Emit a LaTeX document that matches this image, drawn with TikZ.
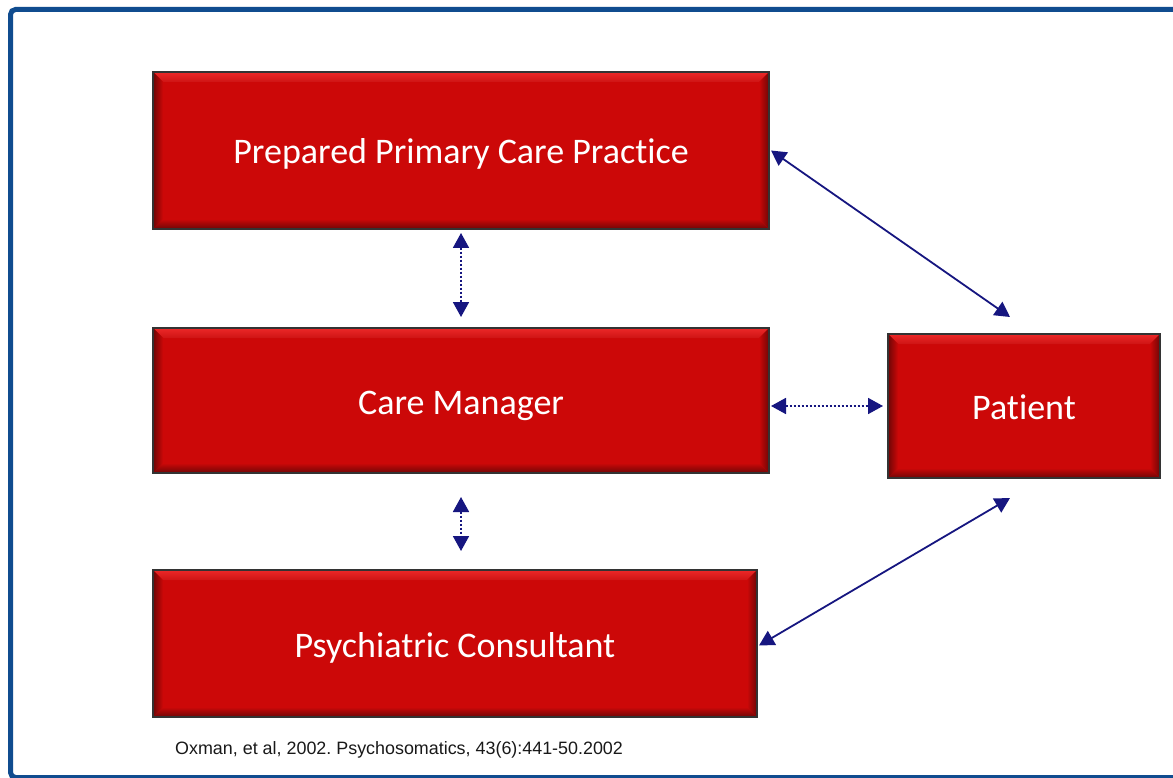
\documentclass[tikz,border=0pt]{standalone}
\usepackage{fontspec}
\setmainfont{Carlito}[Ligatures={NoCommon}]
\newfontfamily\citefont{Liberation Sans}
\usetikzlibrary{arrows.meta}
\frenchspacing

\definecolor{boxred}{RGB}{204,8,8}
\definecolor{bevlight}{RGB}{236,40,40}
\definecolor{bevdark}{RGB}{110,6,6}
\definecolor{navy}{RGB}{22,22,128}
\definecolor{framblue}{RGB}{16,76,143}

\tikzset{
  redbox/.style={
    draw=black!80, line width=2pt, fill=boxred, text=white,
    font=\fontsize{36}{42}\selectfont, inner sep=0pt,
    text height=27pt, text depth=0pt,
    path picture={
      \coordinate (nw) at (path picture bounding box.north west);
      \coordinate (ne) at (path picture bounding box.north east);
      \coordinate (sw) at (path picture bounding box.south west);
      \coordinate (se) at (path picture bounding box.south east);
      % bevelled rim: light top, dark bottom, shaded sides
      \shade[top color=bevlight, bottom color=boxred!95!white]
        (nw) -- (ne) -- ([shift={(-10pt,-10pt)}]ne) -- ([shift={(10pt,-10pt)}]nw) -- cycle;
      \shade[top color=boxred, bottom color=bevdark]
        (sw) -- (se) -- ([shift={(-10pt,10pt)}]se) -- ([shift={(10pt,10pt)}]sw) -- cycle;
      \shade[left color=bevdark, right color=boxred]
        (nw) -- ([shift={(10pt,-10pt)}]nw) -- ([shift={(10pt,10pt)}]sw) -- (sw) -- cycle;
      \shade[left color=boxred, right color=bevdark]
        (ne) -- ([shift={(-10pt,-10pt)}]ne) -- ([shift={(-10pt,10pt)}]se) -- (se) -- cycle;
    }
  },
  link/.style={draw=navy, line width=1.8pt,
    {Triangle[length=15pt,width=16pt]}-{Triangle[length=15pt,width=16pt]}},
  dotlink/.style={link, dash pattern=on 2pt off 2pt},
}

\begin{document}
\begin{tikzpicture}[x=1pt, y=-1pt]
  \useasboundingbox (0,0) rectangle (1173,778);
  \clip (0,0) rectangle (1173,778);
  \fill[white] (0,0) rectangle (1173,778);

  % outer frame
  \draw[framblue, line width=5pt, rounded corners=5pt]
    (10.5,9.5) rectangle (1200,777.5);

  % boxes
  \node[redbox, minimum width=616pt, minimum height=157pt] (ppc) at (461,150.5)
    {Prepared Primary Care Practice};
  \node[redbox, minimum width=616pt, minimum height=145pt] (cm) at (461,400.5)
    {Care Manager};
  \node[redbox, minimum width=604pt, minimum height=147pt] (psy) at (455,643.5)
    {Psychiatric Consultant};
  \node[redbox, minimum width=272pt, minimum height=144pt] (pat) at (1024,406)
    {Patient};

  % connectors
  \draw[dotlink] ([yshift=-3pt]ppc.south) -- ([yshift=10pt]cm.north);
  \draw[dotlink] ([yshift=-23pt]cm.south) -- ([yshift=18pt]cm.south |- psy.north);
  \draw[dotlink] ([xshift=1pt]cm.east |- pat.west) -- ([xshift=-4pt]pat.west);
  \draw[link] ([xshift=1pt]ppc.east) -- ([shift={(-14pt,16pt)}]pat.north);
  \draw[link] ([shift={(1pt,-2pt)}]psy.east) -- ([shift={(-14pt,-19pt)}]pat.south);

  % reference line
  \node[font=\citefont\fontsize{17.9}{21}\selectfont, text=black!90, anchor=west, inner sep=0pt]
    (cite) at (175,750) {Oxman, et al, 2002. Psychosomatics, 43(6):441-50.2002};
\end{tikzpicture}
\end{document}
